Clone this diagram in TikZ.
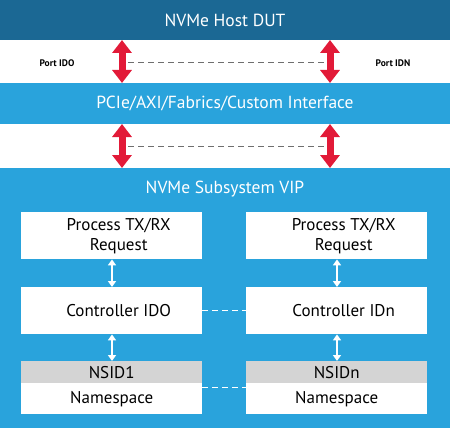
\documentclass[tikz,border=0pt]{standalone}
\usepackage{fontspec}
\setmainfont{PT Sans}
\usetikzlibrary{arrows.meta,positioning}
\definecolor{darkbar}{RGB}{27,104,148}
\definecolor{lightbar}{RGB}{41,163,220}
\definecolor{redarrow}{RGB}{226,26,56}
\definecolor{nsgray}{RGB}{212,212,212}
\definecolor{dashgray}{RGB}{110,110,110}
\tikzset{
  band/.style={draw=none, inner sep=0pt, minimum width=450pt, anchor=north west},
  bandtext/.style={text=white, font=\fontsize{17.5}{19}\selectfont},
  wbox/.style={fill=white, draw=none, inner sep=0pt, minimum width=181pt, anchor=north west, align=center, font=\fontsize{17}{20}\selectfont, text=black},
  shiftbox/.style={wbox, inner xsep=0pt, text width=167pt, minimum width=181pt, align=center},
  grayhead/.style={wbox, fill=nsgray},
  portlabel/.style={font=\bfseries\fontsize{9.5}{10}\selectfont, text=black},
  bigarrow/.style={redarrow, line width=7pt, {Triangle[length=13pt,width=19pt]}-{Triangle[length=13pt,width=19pt]}},
  smallarrow/.style={white, line width=1.6pt, {Triangle[length=6pt,width=8pt]}-{Triangle[length=6pt,width=8pt]}},
  graydash/.style={dashgray, line width=0.6pt, dash pattern=on 6pt off 4pt},
  whitedash/.style={white, line width=0.8pt, dash pattern=on 6pt off 4pt}
}
\begin{document}
\begin{tikzpicture}[x=1pt,y=-1pt]
\useasboundingbox (0,0) rectangle (450,428);
% bands
\node[band, fill=darkbar, minimum height=40pt] (host) at (0,0) {};
\node[bandtext] (hosttext) at (225,20) {NVMe Host DUT};
\node[band, fill=lightbar, minimum height=41pt] (pcie) at (0,83) {};
\node[bandtext] (pcietext) at (225,103.5) {PCIe/AXI/Fabrics/Custom Interface};
\node[band, fill=lightbar, minimum height=260pt] (vip) at (0,168) {};
\node[bandtext] (viptext) at (225,189) {NVMe Subsystem VIP};
% port labels
\node[portlabel] (p0) at (57,63) {Port IDO};
\node[portlabel] (pn) at (393,63) {Port IDN};
% red arrow coordinates
\coordinate (a1t) at (122,40);
\coordinate (a1b) at (122,83);
\coordinate (a2t) at (330,40);
\coordinate (a2b) at (330,83);
\coordinate (b1t) at (122,124);
\coordinate (b1b) at (122,168);
\coordinate (b2t) at (330,124);
\coordinate (b2b) at (330,168);
\draw[graydash] (128,62) -- (324,62);
\draw[graydash] (128,146) -- (324,146);
\draw[bigarrow] (a1t) -- (a1b);
\draw[bigarrow] (a2t) -- (a2b);
\draw[bigarrow] (b1t) -- (b1b);
\draw[bigarrow] (b2t) -- (b2b);
% boxes left
\node[wbox, minimum height=47pt] (procL) at (21,212) {\hspace*{14pt}Process TX/RX\\\hspace*{14pt}Request};
\node[wbox, minimum height=47pt] (ctrlL) at (21,287) {\hspace*{14pt}Controller IDO};
\node[grayhead, minimum height=22pt] (nsidL) at (21,361) {NSID1};
\node[wbox, minimum height=31pt] (nsL) at (21,383) {Namespace};
% boxes right
\node[wbox, minimum height=47pt] (procR) at (246,212) {\hspace*{14pt}Process TX/RX\\\hspace*{14pt}Request};
\node[wbox, minimum height=47pt] (ctrlR) at (246,287) {\hspace*{14pt}Controller IDn};
\node[grayhead, minimum height=22pt] (nsidR) at (246,361) {NSIDn};
\node[wbox, minimum height=31pt] (nsR) at (246,383) {Namespace};
% white arrows
\draw[smallarrow] (procL.south -| 112,0) -- (ctrlL.north -| 112,0);
\draw[smallarrow] (ctrlL.south -| 112,0) -- (nsidL.north -| 112,0);
\draw[smallarrow] (procR.south -| 337,0) -- (ctrlR.north -| 337,0);
\draw[smallarrow] (ctrlR.south -| 337,0) -- (nsidR.north -| 337,0);
% white dashed links
\draw[whitedash] (ctrlL.east) -- (ctrlR.west);
\draw[whitedash] (nsL.east |- 0,387) -- (nsR.west |- 0,387);
\end{tikzpicture}
\end{document}
